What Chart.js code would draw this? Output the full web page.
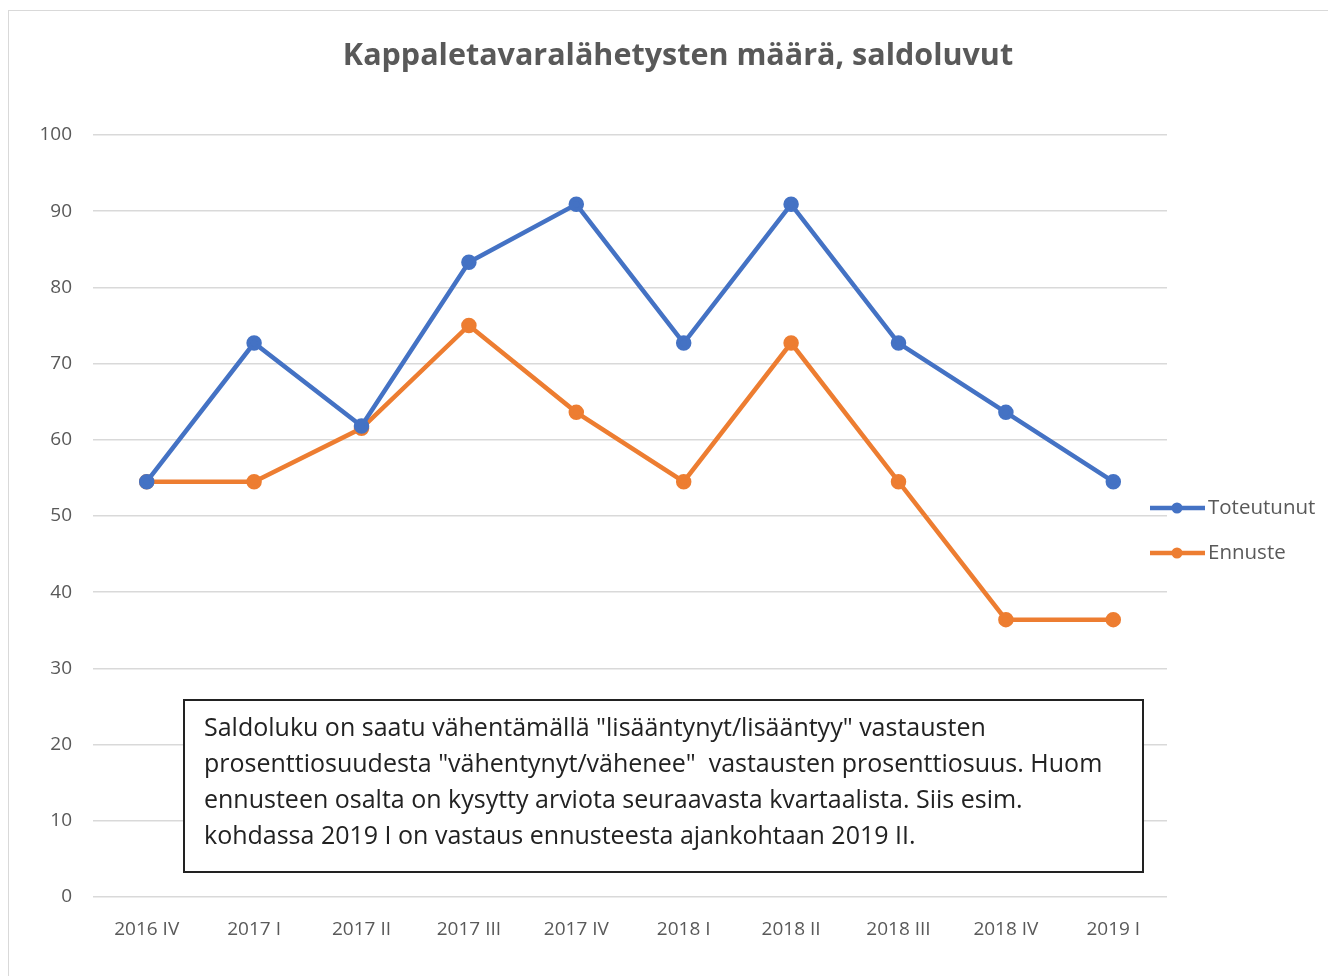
<!DOCTYPE html>
<html>
<head>
<meta charset="utf-8">
<script src="https://cdn.jsdelivr.net/npm/chart.js@4"></script>
<style>
  html, body { margin: 0; padding: 0; background: #fff; overflow: hidden; }
  #frame { position: absolute; left: 8px; top: 10px; width: 1340px; height: 990px; border: 1.5px solid #d9d9d9; box-sizing: border-box; }
  #myChart { position: absolute; left: 0; top: 0; }
</style>
</head>
<body>
<div id="frame"></div>
<canvas id="myChart" width="1328" height="976"></canvas>
<script>
// DATA //
const kvartaalit = ["2016 IV", "2017 I", "2017 II", "2017 III", "2017 IV", "2018 I", "2018 II", "2018 III", "2018 IV", "2019 I"];
const toteutunut = [54.5, 72.7, 61.8, 83.3, 90.9, 72.7, 90.9, 72.7, 63.6, 54.5];
const ennuste = [54.5, 54.5, 61.5, 75.0, 63.6, 54.5, 72.7, 54.5, 36.4, 36.4];
const yTicks = [0, 10, 20, 30, 40, 50, 60, 70, 80, 90, 100];

const otsikko = "Kappaletavaralähetysten määrä, saldoluvut";
const huomio = [
  "Saldoluku on saatu vähentämällä \"lisääntynyt/lisääntyy\" vastausten",
  "prosenttiosuudesta \"vähentynyt/vähenee\"  vastausten prosenttiosuus. Huom",
  "ennusteen osalta on kysytty arviota seuraavasta kvartaalista. Siis esim.",
  "kohdassa 2019 I on vastaus ennusteesta ajankohtaan 2019 II."
];

const SININEN = "#4472C4";
const ORANSSI = "#ED7D31";
const HARMAA = "#595959";
const FONTTI = "'Open Sans', sans-serif";

// otsikko, selite ja tekstilaatikko piirretään itse //
const omatPiirrot = {
  id: "omatPiirrot",
  afterDraw(chart) {
    const ctx = chart.ctx;
    ctx.save();
    // otsikko
    ctx.fillStyle = HARMAA;
    ctx.font = "bold 30.5px " + FONTTI;
    ctx.textAlign = "center";
    ctx.textBaseline = "middle";
    ctx.fillText(otsikko, 678, 56);

    // selite
    const sarjat = [
      { nimi: "Toteutunut", vari: SININEN, y: 508 },
      { nimi: "Ennuste", vari: ORANSSI, y: 553 }
    ];
    sarjat.forEach((s) => {
      ctx.strokeStyle = s.vari;
      ctx.lineWidth = 4.5;
      ctx.beginPath();
      ctx.moveTo(1150, s.y);
      ctx.lineTo(1205, s.y);
      ctx.stroke();
      ctx.fillStyle = s.vari;
      ctx.beginPath();
      ctx.arc(1177, s.y, 5.5, 0, Math.PI * 2);
      ctx.fill();
      ctx.fillStyle = HARMAA;
      ctx.font = "20.5px " + FONTTI;
      ctx.textAlign = "left";
      ctx.fillText(s.nimi, 1208, s.y);
    });

    // tekstilaatikko
    ctx.fillStyle = "#fff";
    ctx.fillRect(184, 700, 959, 172);
    ctx.strokeStyle = "#222";
    ctx.lineWidth = 2;
    ctx.strokeRect(184, 700, 959, 172);
    ctx.fillStyle = "#222";
    ctx.font = "25px " + FONTTI;
    ctx.textAlign = "left";
    huomio.forEach((rivi, i) => {
      ctx.fillText(rivi, 204, 729 + i * 36);
    });
    ctx.restore();
  }
};

document.addEventListener("DOMContentLoaded", function () {
  const ctx = document.getElementById("myChart").getContext("2d");
  new Chart(ctx, {
    type: "line",
    data: {
      labels: kvartaalit,
      datasets: [
        {
          label: "Toteutunut",
          data: toteutunut,
          borderColor: SININEN,
          backgroundColor: SININEN,
          borderWidth: 4.5,
          pointRadius: 5.5,
          pointHoverRadius: 5.5,
          tension: 0,
        },
        {
          label: "Ennuste",
          data: ennuste,
          borderColor: ORANSSI,
          backgroundColor: ORANSSI,
          borderWidth: 4.5,
          pointRadius: 5.5,
          pointHoverRadius: 5.5,
          tension: 0,
        },
      ],
    },
    options: {
      responsive: false,
      animation: false,
      devicePixelRatio: 1,
      layout: { padding: { left: 0, right: 161, top: 135, bottom: 28 } },
      plugins: {
        legend: { display: false },
        title: { display: false },
        tooltip: { enabled: false },
      },
      scales: {
        x: {
          offset: true,
          grid: { display: false, drawTicks: false },
          border: { display: false },
          ticks: { color: HARMAA, font: { family: FONTTI, size: 19 }, padding: 21, maxRotation: 0 },
          afterFit: (scale) => { scale.height = 51; },
        },
        y: {
          min: 0,
          max: 100,
          afterBuildTicks: (scale) => { scale.ticks = yTicks.map((v) => ({ value: v })); },
          grid: { color: "#d9d9d9", lineWidth: 1.5, drawTicks: false },
          border: { display: false },
          ticks: { color: HARMAA, font: { family: FONTTI, size: 19 }, padding: 21 },
          afterFit: (scale) => { scale.width = 93; },
        },
      },
    },
    plugins: [omatPiirrot],
  });
});
</script>
</body>
</html>
